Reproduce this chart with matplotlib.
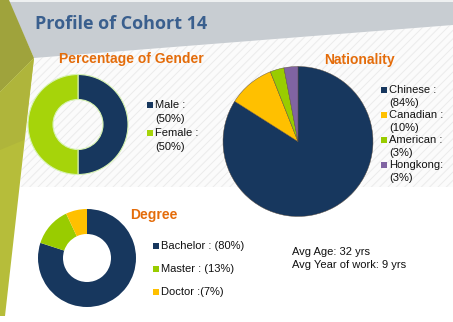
import matplotlib
matplotlib.use("Agg")
import matplotlib.pyplot as plt
from matplotlib.patches import Polygon, Rectangle

W, H = 453, 322

# ---------------- data ----------------
title = "Profile of Cohort 14"

gender_title = "Percentage of Gender"
gender_labels = ["Male :", "Female :"]
gender_values = [50, 50]

nat_title = "Nationality"
nat_labels = ["Chinese :", "Canadian :", "American :", "Hongkong:"]
nat_values = [84, 10, 3, 3]

degree_title = "Degree"
degree_labels = ["Bachelor : ", "Master : ", "Doctor :"]
degree_values = [80, 13, 7]

info_lines = ["Avg Age: 32 yrs", "Avg Year of work: 9 yrs"]

# ---------------- style ----------------
NAVY = "#17375e"
LIME = "#a6d40a"
GREEN2 = "#99cc00"
YELLOW = "#ffc000"
PURPLE = "#8064a2"
ORANGE = "#e46c0a"
TITLEBLUE = "#3a5f8e"
TXT = "#111111"
FONT = "Liberation Sans"
plt.rcParams["hatch.linewidth"] = 0.7

fig = plt.figure(figsize=(W / 100, H / 100), dpi=100)
ax = fig.add_axes([0, 0, 1, 1])


def Y(y):
    return H - y


# background pieces
ax.add_patch(Rectangle((0, 0), W, H, facecolor="white", edgecolor="none", zorder=0))
hatch_poly = [(34, 58), (W, 25), (W, 187), (20, 187)]
ax.add_patch(Polygon([(x, Y(y)) for x, y in hatch_poly], closed=True,
                     facecolor="#fbfbfb", edgecolor="#ebebeb", hatch="////",
                     linewidth=0, zorder=1))
header = [(9, 2), (W, 2), (W, 25), (34, 58)]
ax.add_patch(Polygon([(x, Y(y)) for x, y in header], closed=True,
                     facecolor="#c8cdd2", edgecolor="none", zorder=2))
ax.add_patch(Rectangle((0, Y(2)), W, 2, facecolor="#eef0f1", edgecolor="none", zorder=2))
olive_top = [(0, 0), (9, 0), (34, 58), (0, 92)]
ax.add_patch(Polygon([(x, Y(y)) for x, y in olive_top], closed=True,
                     facecolor="#9fa33c", edgecolor="none", zorder=3))
olive_low = [(0, 92), (34, 58), (5, 316), (0, 316)]
ax.add_patch(Polygon([(x, Y(y)) for x, y in olive_low], closed=True,
                     facecolor="#b6bd3a", edgecolor="none", zorder=3))
olive_mid = [(0, 92), (34, 58), (24, 140), (0, 150)]
ax.add_patch(Polygon([(x, Y(y)) for x, y in olive_mid], closed=True,
                     facecolor="#afb53b", edgecolor="none", zorder=3))

# title
ax.text(35, Y(24), title, fontsize=13, fontweight="bold", color=TITLEBLUE,
        family="Open Sans", va="center", ha="left", zorder=5)

# ---------------- gender donut ----------------
ax.pie(gender_values, colors=[NAVY, LIME], startangle=90, counterclock=False,
       center=(78, Y(124.5)), radius=50, frame=True,
       wedgeprops=dict(width=25, edgecolor="#d6f2b0", linewidth=0.8))
ax.text(131, Y(59), gender_title, fontsize=10, fontweight="bold", color=ORANGE,
        family=FONT, ha="center", va="center", zorder=5)
gcols = [NAVY, LIME]
for i, (lab, v) in enumerate(zip(gender_labels, gender_values)):
    y0 = 105 + i * 28
    ax.add_patch(Rectangle((147, Y(y0) - 3), 6, 6, facecolor=gcols[i],
                           edgecolor="none", zorder=5))
    ax.text(155, Y(y0), lab, fontsize=8, family=FONT, color=TXT,
            va="center", ha="left", zorder=5)
    ax.text(155, Y(y0 + 13.5), f"({v}%)", fontsize=8, family=FONT, color=TXT,
            va="center", ha="left", zorder=5)

# ---------------- nationality pie ----------------
ncols = [NAVY, YELLOW, GREEN2, PURPLE]
ax.pie(nat_values, colors=ncols, startangle=90, counterclock=False,
       center=(298, Y(141.5)), radius=75, frame=True,
       wedgeprops=dict(edgecolor="#5a4a3a", linewidth=0.3))
ax.text(359, Y(60), nat_title, fontsize=10, fontweight="bold", color=ORANGE,
        family=FONT, ha="center", va="center", zorder=5)
for i, (lab, v) in enumerate(zip(nat_labels, nat_values)):
    y0 = 90 + i * 25
    ax.add_patch(Rectangle((381, Y(y0) - 3), 6, 6, facecolor=ncols[i],
                           edgecolor="none", zorder=5))
    ax.text(389, Y(y0), lab, fontsize=8, family=FONT, color=TXT,
            va="center", ha="left", zorder=5)
    ax.text(389, Y(y0 + 12.5), f"({v}%)", fontsize=8, family=FONT, color=TXT,
            va="center", ha="left", zorder=5)

# ---------------- degree donut ----------------
dcols = [NAVY, GREEN2, YELLOW]
ax.pie(degree_values, colors=dcols, startangle=90, counterclock=False,
       center=(87, Y(258)), radius=49, frame=True,
       wedgeprops=dict(width=25, edgecolor="none"))
ax.text(130, Y(215), degree_title, fontsize=10, fontweight="bold", color=ORANGE,
        family=FONT, ha="left", va="center", zorder=5)
for i, (lab, v) in enumerate(zip(degree_labels, degree_values)):
    y0 = 246 + i * 23
    ax.add_patch(Rectangle((153, Y(y0) - 3), 6, 6, facecolor=dcols[i],
                           edgecolor="none", zorder=5))
    ax.text(161, Y(y0), f"{lab}({v}%)", fontsize=8, family=FONT, color=TXT,
            va="center", ha="left", zorder=5)

for i, line in enumerate(info_lines):
    ax.text(292, Y(252 + i * 13), line, fontsize=8, family=FONT, color=TXT,
            va="center", ha="left", zorder=5)

ax.set_xlim(0, W)
ax.set_ylim(0, H)
ax.set_aspect("auto")
ax.axis("off")
fig.savefig("out.png", dpi=100)
